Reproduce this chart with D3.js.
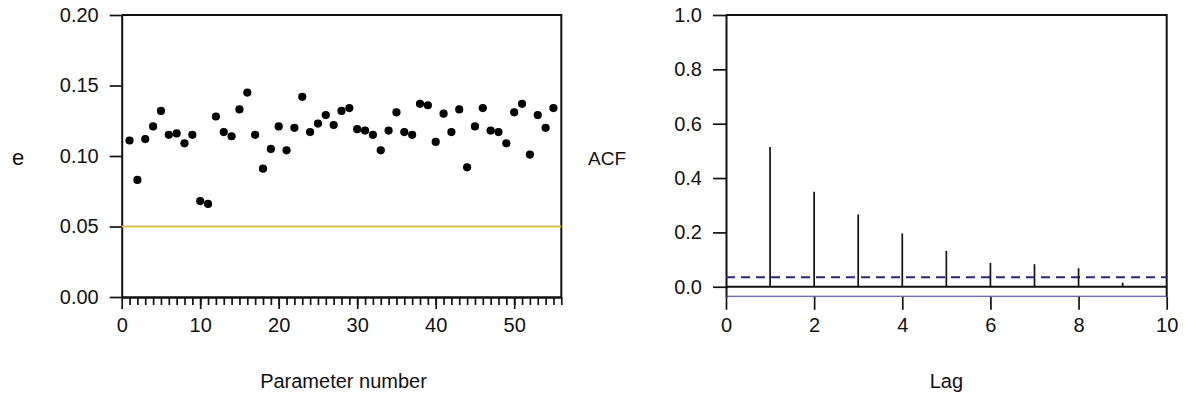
<!DOCTYPE html>
<html>
<head>
<meta charset="utf-8">
<script src="https://cdn.jsdelivr.net/npm/d3@7"></script>
<style>
  body { margin: 0; background: #fff; }
  svg text { font-family: "Liberation Sans", Arial, sans-serif; fill: #111; }
</style>
</head>
<body>
<div class="svg-container"></div>
<script>
// e value for each parameter number (1..55)
const eValues = [
  0.111, 0.083, 0.112, 0.121, 0.132, 0.115, 0.116, 0.109, 0.115, 0.068,
  0.066, 0.128, 0.117, 0.114, 0.133, 0.145, 0.115, 0.091, 0.105, 0.121,
  0.104, 0.120, 0.142, 0.117, 0.123, 0.129, 0.122, 0.132, 0.134, 0.119,
  0.118, 0.115, 0.104, 0.118, 0.131, 0.117, 0.115, 0.137, 0.136, 0.110,
  0.130, 0.117, 0.133, 0.092, 0.121, 0.134, 0.118, 0.117, 0.109, 0.131,
  0.137, 0.101, 0.129, 0.120, 0.134
];
const paramNumbers = eValues.map((d, i) => i + 1);
const eThreshold = 0.05;
const eTicks = [0, 0.05, 0.1, 0.15, 0.2];
const paramTicks = [0, 10, 20, 30, 40, 50];

// autocorrelation of the e series
const lags = [1, 2, 3, 4, 5, 6, 7, 8, 9];
const acfValues = [0.514, 0.350, 0.266, 0.196, 0.132, 0.088, 0.083, 0.068, 0.015];
const acfBound = 0.035;
const acfTicks = [0, 0.2, 0.4, 0.6, 0.8, 1.0];
const lagTicks = [0, 2, 4, 6, 8, 10];

const width = 1186, height = 401;
const fontSize = 20;

const svg = d3.select(".svg-container").append("svg")
  .attr("width", width)
  .attr("height", height);

// ---------- left panel ----------
const xL = d3.scaleLinear().domain([0, 56]).range([121.7, 561.3]);
const yL = d3.scaleLinear().domain([0, 0.2]).range([297, 15]);

function styleAxis(g) {
  g.selectAll("path.domain").attr("stroke", "#111").attr("stroke-width", 2);
  g.selectAll(".tick line").attr("stroke", "#111").attr("stroke-width", 1.7);
  g.selectAll("text").style("font-size", fontSize + "px").attr("fill", "#111");
}

// frame top / right
svg.append("path")
  .attr("d", `M${xL(0)},${yL(0.2)}H${xL(56)}V${yL(0)}`)
  .attr("fill", "none").attr("stroke", "#111").attr("stroke-width", 2);

svg.append("g")
  .attr("transform", `translate(${xL(0)},0)`)
  .call(d3.axisLeft(yL).tickValues(eTicks).tickFormat(d3.format(".2f")).tickSize(12).tickPadding(11).tickSizeOuter(0))
  .call(styleAxis);

// minor ticks every parameter
svg.append("g")
  .attr("transform", `translate(0,${yL(0)})`)
  .call(d3.axisBottom(xL).tickValues(d3.range(1, 57)).tickFormat("").tickSize(8).tickSizeOuter(0))
  .call(styleAxis);

svg.append("g")
  .attr("transform", `translate(0,${yL(0)})`)
  .call(d3.axisBottom(xL).tickValues(paramTicks).tickSize(12).tickPadding(9).tickSizeOuter(0))
  .call(styleAxis);

svg.append("line")
  .attr("x1", xL(0)).attr("x2", xL(56))
  .attr("y1", yL(eThreshold)).attr("y2", yL(eThreshold))
  .attr("stroke", "#e2bb3e").attr("stroke-width", 2);

svg.append("g")
  .selectAll("circle")
  .data(eValues)
  .join("circle")
  .attr("cx", (d, i) => xL(paramNumbers[i]))
  .attr("cy", d => yL(d))
  .attr("r", 4.1)
  .attr("fill", "#000");

svg.append("text")
  .attr("x", 18).attr("y", 165)
  .style("text-anchor", "middle")
  .style("font-size", "22px")
  .text("e");

svg.append("text")
  .attr("x", (xL(0) + xL(56)) / 2 + 2).attr("y", 388)
  .style("text-anchor", "middle")
  .style("font-size", "20px")
  .text("Parameter number");

// ---------- right panel ----------
const xR = d3.scaleLinear().domain([0, 10]).range([726, 1166.7]);
const yR = d3.scaleLinear().domain([-0.037, 1]).range([296.8, 15]);

svg.append("path")
  .attr("d", `M${xR(0)},${yR(1)}H${xR(10)}V${yR(-0.037)}`)
  .attr("fill", "none").attr("stroke", "#111").attr("stroke-width", 2);

svg.append("g")
  .attr("transform", `translate(${xR(0)},0)`)
  .call(d3.axisLeft(yR).tickValues(acfTicks).tickFormat(d3.format(".1f")).tickSize(13).tickPadding(11).tickSizeOuter(0))
  .call(styleAxis);

svg.append("g")
  .attr("transform", `translate(0,${yR(-0.037)})`)
  .call(d3.axisBottom(xR).tickValues(lagTicks).tickSize(13).tickPadding(8).tickSizeOuter(0))
  .call(styleAxis)
  .call(g => g.select("path.domain").remove());

svg.append("line")
  .attr("x1", xR(0)).attr("x2", xR(10))
  .attr("y1", yR(-acfBound)).attr("y2", yR(-acfBound))
  .attr("stroke", "#3b3bb0").attr("stroke-width", 1.2);

svg.append("line")
  .attr("x1", xR(0)).attr("x2", xR(10))
  .attr("y1", yR(acfBound)).attr("y2", yR(acfBound))
  .attr("stroke", "#25259a").attr("stroke-width", 2)
  .attr("stroke-dasharray", "9,6");

svg.append("g")
  .selectAll("line")
  .data(acfValues)
  .join("line")
  .attr("x1", (d, i) => xR(lags[i])).attr("x2", (d, i) => xR(lags[i]))
  .attr("y1", yR(0)).attr("y2", d => yR(d))
  .attr("stroke", "#111").attr("stroke-width", 1.7);

svg.append("line")
  .attr("x1", xR(0)).attr("x2", xR(10))
  .attr("y1", yR(0)).attr("y2", yR(0))
  .attr("stroke", "#111").attr("stroke-width", 2);

svg.append("text")
  .attr("x", 607).attr("y", 165)
  .style("text-anchor", "middle")
  .style("font-size", "19px")
  .text("ACF");

svg.append("text")
  .attr("x", (xR(0) + xR(10)) / 2).attr("y", 388)
  .style("text-anchor", "middle")
  .style("font-size", "20px")
  .text("Lag");
</script>
</body>
</html>
